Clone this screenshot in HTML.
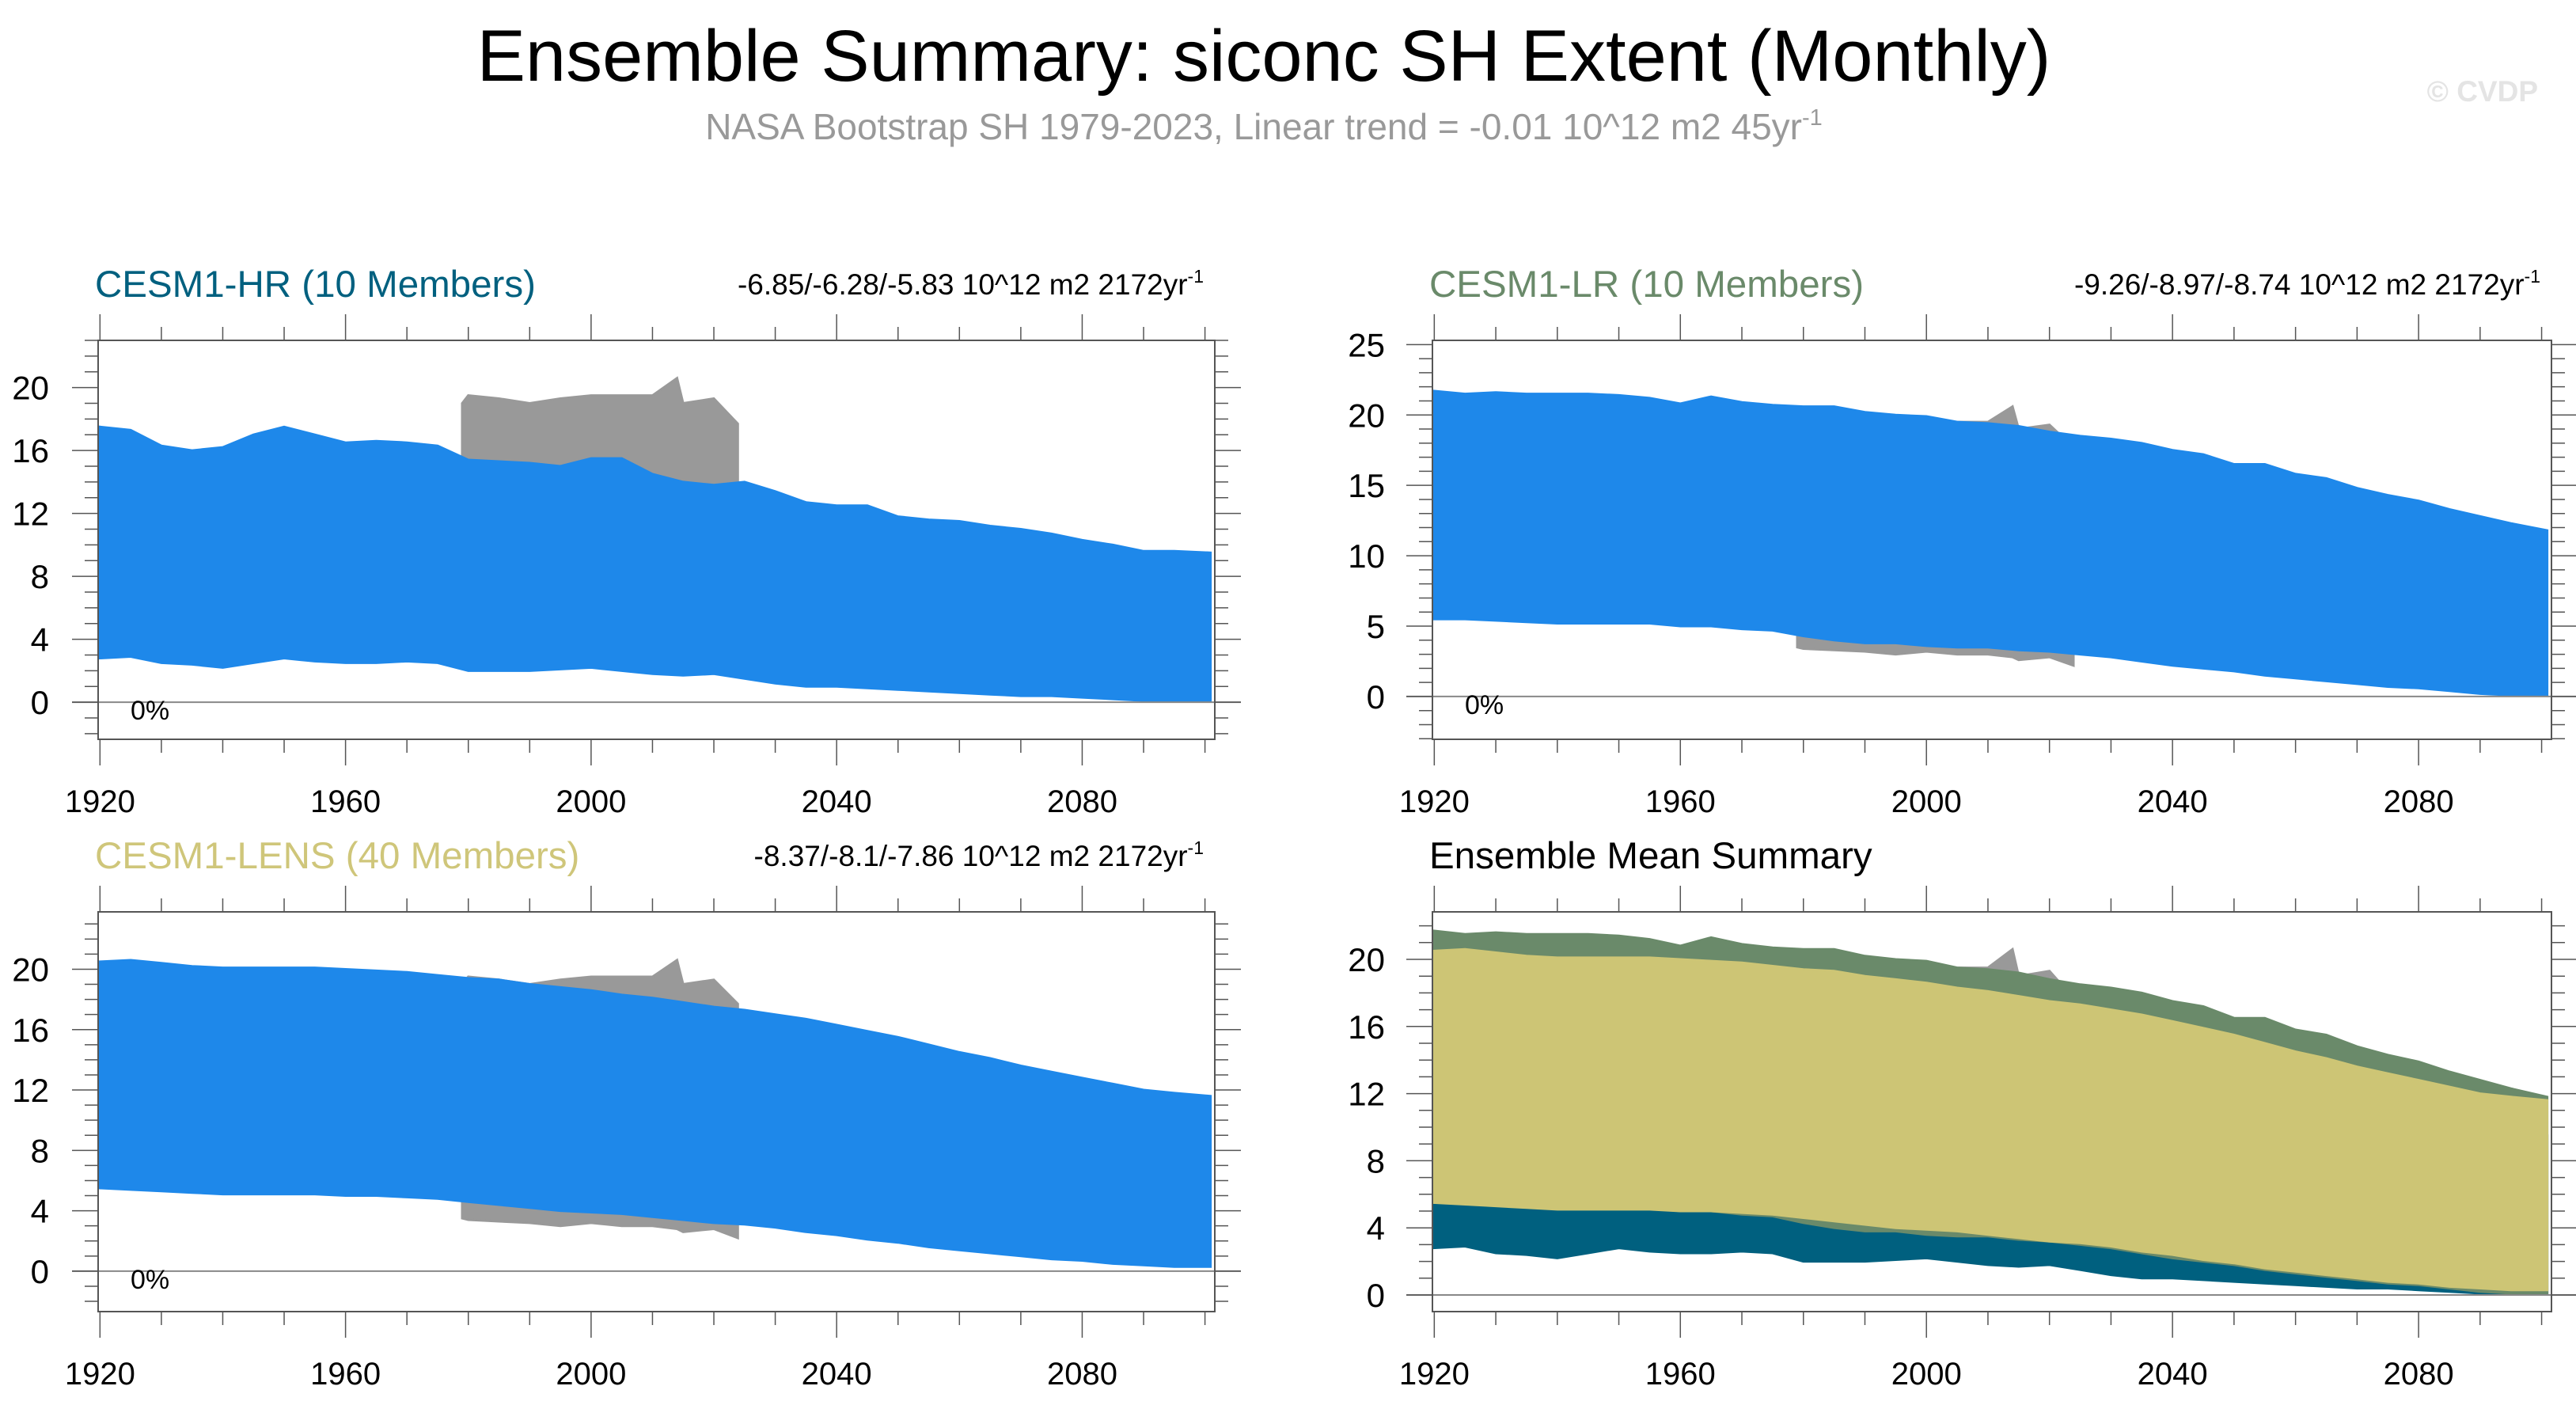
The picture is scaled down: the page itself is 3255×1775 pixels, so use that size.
<!DOCTYPE html>
<html><head><meta charset="utf-8"><style>
html,body{margin:0;padding:0;background:#fff;}
svg{display:block;font-family:"Liberation Sans",sans-serif;}
</style></head><body>
<svg id="chart" width="3255" height="1775" viewBox="0 0 3255 1775">
<text x="1597" y="102" text-anchor="middle" font-size="92" fill="#000">Ensemble Summary: siconc SH Extent (Monthly)</text>
<text x="1597" y="176" text-anchor="middle" font-size="46" fill="#999">NASA Bootstrap SH 1979-2023, Linear trend = -0.01 10^12 m2 45yr<tspan dy="-18" font-size="29">-1</tspan></text>
<text x="3207" y="128" text-anchor="end" font-size="37" font-weight="bold" fill="#e4e4e4">© CVDP</text>
</svg>
<script>
const years = [1920,1925,1930,1935,1940,1945,1950,1955,1960,1965,1970,1975,1980,1985,1990,1995,2000,2005,2010,2015,2020,2025,2030,2035,2040,2045,2050,2055,2060,2065,2070,2075,2080,2085,2090,2095,2100.9];
const hrMax = [17.5,17.3,16.3,16.0,16.2,17.0,17.5,17.0,16.5,16.6,16.5,16.3,15.4,15.3,15.2,15.0,15.5,15.5,14.5,14.0,13.8,14.0,13.4,12.7,12.5,12.5,11.8,11.6,11.5,11.2,11.0,10.7,10.3,10.0,9.6,9.6,9.5];
const hrMin = [2.8,2.9,2.5,2.4,2.2,2.5,2.8,2.6,2.5,2.5,2.6,2.5,2.0,2.0,2.0,2.1,2.2,2.0,1.8,1.7,1.8,1.5,1.2,1.0,1.0,0.9,0.8,0.7,0.6,0.5,0.4,0.4,0.3,0.2,0.1,0.05,0.05];
const lrMax = [21.7,21.5,21.6,21.5,21.5,21.5,21.4,21.2,20.8,21.3,20.9,20.7,20.6,20.6,20.2,20.0,19.9,19.5,19.4,19.2,18.8,18.5,18.3,18.0,17.5,17.2,16.5,16.5,15.8,15.5,14.8,14.3,13.9,13.3,12.8,12.3,11.8];
const lrMin = [5.5,5.5,5.4,5.3,5.2,5.2,5.2,5.2,5.0,5.0,4.8,4.7,4.3,4.0,3.8,3.8,3.6,3.5,3.5,3.3,3.2,3.0,2.8,2.5,2.2,2.0,1.8,1.5,1.3,1.1,0.9,0.7,0.6,0.4,0.2,0.1,0.1];
const lensMax = [20.5,20.6,20.4,20.2,20.1,20.1,20.1,20.1,20.0,19.9,19.8,19.6,19.4,19.3,19.0,18.8,18.6,18.3,18.1,17.8,17.5,17.3,17.0,16.7,16.3,15.9,15.5,15.0,14.5,14.1,13.6,13.2,12.8,12.4,12.0,11.8,11.6];
const lensMin = [5.5,5.4,5.3,5.2,5.1,5.1,5.1,5.1,5.0,5.0,4.9,4.8,4.6,4.4,4.2,4.0,3.9,3.8,3.6,3.4,3.2,3.1,2.9,2.6,2.4,2.1,1.9,1.6,1.4,1.2,1.0,0.8,0.7,0.5,0.4,0.3,0.3];
const obsYears = [1979,1980,1985,1990,1995,2000,2005,2010,2014,2015,2020,2023.9];
const obsMax = [19.0,19.5,19.3,19.0,19.3,19.5,19.5,19.5,20.6,19.0,19.3,17.7];
const obsMin = [3.5,3.4,3.3,3.2,3.0,3.2,3.0,3.0,2.8,2.6,2.8,2.2];
const xTickYears = [1920,1960,2000,2040,2080];

const NS='http://www.w3.org/2000/svg';
const svg=document.getElementById('chart');
function mk(tag,attrs,parent){const e=document.createElementNS(NS,tag);for(const k in attrs)e.setAttribute(k,attrs[k]);(parent||svg).appendChild(e);return e;}
const XMIN=1919.7, XMAX=2101.6;

const panels=[
 {id:'cesm1-hr',L:124,R:1535,T:430,B:934,ymin:-2.36,ymax:23.0,step:4,title:'CESM1-HR (10 Members)',tcol:'#00607f',stat:'-6.85/-6.28/-5.83 10^12 m2 2172yr',tb:375,lab:62,pct:true,
  series:[{n:'obs',c:'#999',x:obsYears,hi:obsMax,lo:obsMin},{n:'hr-members',c:'#1e88ea',x:years,hi:hrMax,lo:hrMin}]},
 {id:'cesm1-lr',L:1810,R:3224,T:430,B:934,ymin:-3.04,ymax:25.3,step:5,title:'CESM1-LR (10 Members)',tcol:'#6a8a6a',stat:'-9.26/-8.97/-8.74 10^12 m2 2172yr',tb:375,lab:1750,pct:true,
  series:[{n:'obs',c:'#999',x:obsYears,hi:obsMax,lo:obsMin},{n:'lr-members',c:'#1e88ea',x:years,hi:lrMax,lo:lrMin}]},
 {id:'cesm1-lens',L:124,R:1535,T:1152,B:1657,ymin:-2.68,ymax:23.8,step:4,title:'CESM1-LENS (40 Members)',tcol:'#cfc67a',stat:'-8.37/-8.1/-7.86 10^12 m2 2172yr',tb:1097,lab:62,pct:true,
  series:[{n:'obs',c:'#999',x:obsYears,hi:obsMax,lo:obsMin},{n:'lens-members',c:'#1e88ea',x:years,hi:lensMax,lo:lensMin}]},
 {id:'ensemble-mean',L:1810,R:3224,T:1152,B:1657,ymin:-0.99,ymax:22.83,step:4,title:'Ensemble Mean Summary',tcol:'#000',stat:null,tb:1097,lab:1750,pct:false,
  series:[{n:'obs',c:'#999',x:obsYears,hi:obsMax,lo:obsMin},{n:'hr-mean',c:'#00607f',x:years,hi:hrMax,lo:hrMin},{n:'lr-mean',c:'#6a8a6a',x:years,hi:lrMax,lo:lrMin},{n:'lens-mean',c:'#cdc575',x:years,hi:lensMax,lo:lensMin}]}
];

panels.forEach(p=>{
 const g=mk('g',{});
 
 
 const xs=y=>p.L+(y-XMIN)/(XMAX-XMIN)*(p.R-p.L);
 const ys=v=>p.B-(v-p.ymin)/(p.ymax-p.ymin)*(p.B-p.T);
 const t=mk('text',{x:p.L-4,y:p.tb,'font-size':47.5,fill:p.tcol},g);t.textContent=p.title;
 
 
 if(p.stat){const s=mk('text',{x:p.R-14,y:p.tb-3,'font-size':37,'text-anchor':'end',fill:'#000'},g);
  s.textContent=p.stat;const sp=mk('tspan',{dy:-15,'font-size':23},s);sp.textContent='-1';
  
  }
 p.series.forEach(sr=>{
  let pts=[];
  for(let i=0;i<sr.x.length;i++)pts.push(xs(sr.x[i]).toFixed(1)+','+ys(sr.hi[i]).toFixed(1));
  for(let i=sr.x.length-1;i>=0;i--)pts.push(xs(sr.x[i]).toFixed(1)+','+ys(sr.lo[i]).toFixed(1));
  const pg=mk('polygon',{points:pts.join(' '),fill:sr.c,stroke:sr.c,'stroke-width':3},g);
  
  
 });
 const z=mk('line',{x1:p.L-33,x2:p.R+33,y1:ys(0),y2:ys(0),stroke:'#888','stroke-width':2},g);
 
 
 const f=mk('rect',{x:p.L,y:p.T,width:p.R-p.L,height:p.B-p.T,fill:'none',stroke:'#555','stroke-width':2},g);
 
 
 for(let yr=1920;yr<=2100;yr+=10){
  const x=xs(yr),len=(yr%40===0)?33:17;
  mk('line',{x1:x,x2:x,y1:p.B,y2:p.B+len,stroke:'#555','stroke-width':1.5},g);
  mk('line',{x1:x,x2:x,y1:p.T,y2:p.T-len,stroke:'#555','stroke-width':1.5},g);
 }
 xTickYears.forEach(yr=>{const l=mk('text',{x:xs(yr),y:p.B+92,'font-size':40,'text-anchor':'middle',fill:'#000'},g);l.textContent=yr;
  
  });
 for(let v=Math.ceil(p.ymin);v<=p.ymax;v++){
  const y=ys(v),maj=(v%p.step===0),len=maj?33:17;
  mk('line',{x1:p.L-len,x2:p.L,y1:y,y2:y,stroke:'#555','stroke-width':1.5},g);
  mk('line',{x1:p.R,x2:p.R+len,y1:y,y2:y,stroke:'#555','stroke-width':1.5},g);
  if(maj&&v>=0){const l=mk('text',{x:p.lab,y:y+15,'font-size':42,'text-anchor':'end',fill:'#000'},g);l.textContent=v;
   
   }
 }
 if(p.pct){const c=mk('text',{x:p.L+41,y:ys(0)+22,'font-size':34,fill:'#000'},g);c.textContent='0%';
  
  }
});
</script>
</body></html>
